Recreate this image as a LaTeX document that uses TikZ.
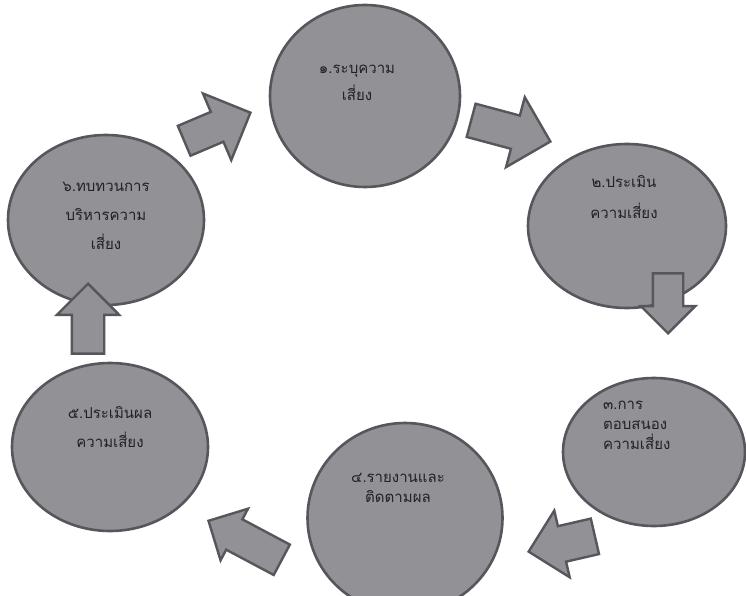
\documentclass[tikz,border=0pt]{standalone}
\usepackage{fontspec}
\newfontfamily\thaifont[Script=Thai]{Loma}
\usetikzlibrary{shapes.geometric,shapes.arrows}
\definecolor{stepfill}{RGB}{145,145,150}
\definecolor{stepline}{RGB}{86,86,92}
\definecolor{steptext}{RGB}{34,34,36}
\tikzset{
  stepcircle/.style={ellipse, draw=stepline, fill=stepfill, line width=2.6pt, inner sep=0pt},
  steplabel/.style={text=steptext, font=\thaifont\fontsize{15}{#1}\selectfont, inner sep=0pt},
  steplabel/.default=28,
  blockarrow/.style 2 args={single arrow, draw=stepline, fill=stepfill, line width=2.4pt,
    inner xsep=0pt, inner ysep=#1, single arrow head extend=#2, anchor=tip},
}
\begin{document}
\begin{tikzpicture}[x=1pt,y=1pt]
\useasboundingbox (0,0) rectangle (746,595);
\fill[white] (0,0) rectangle (746,595);
% the six steps
\node[stepcircle, minimum width=190, minimum height=182] (e1) at (365,499) {};
\node[stepcircle, minimum width=198, minimum height=164] (e2) at (627,369) {};
\node[stepcircle, minimum width=182, minimum height=148] (e3) at (654,143) {};
\node[stepcircle, minimum width=195, minimum height=190] (e4) at (405,77) {};
\node[stepcircle, minimum width=196, minimum height=168] (e5) at (110,148) {};
\node[stepcircle, minimum width=196, minimum height=170] (e6) at (106,375) {};
% texts
\node[steplabel=27, align=center] (t1) at (357,512) {๑.ระบุความ\\เสี่ยง};
\node[steplabel=31, align=center] (t2) at (624,398) {๒.ประเมิน\\ความเสี่ยง};
\node[steplabel=20, align=left, anchor=west] (t3) at (603,170) {๓.การ\\ตอบสนอง\\ความเสี่ยง};
\node[steplabel=20, align=center] (t4) at (398,107) {๔.รายงานและ\\ติดตามผล};
\node[steplabel=29, align=center] (t5) at (110,168) {๕.ประเมินผล\\ความเสี่ยง};
\node[steplabel=29, align=center] (t6) at (106,379) {๖.ทบทวนการ\\บริหารความ\\เสี่ยง};
% block arrows
\node[blockarrow={16pt}{19pt}, rotate=-15, minimum height=82] (a12) at (552,453) {};
\node[blockarrow={14pt}{12pt}, rotate=-90, minimum height=60] (a23) at (668,260) {};
\node[blockarrow={17pt}{16pt}, rotate=193, minimum height=68] (a34) at (527,43) {};
\node[blockarrow={16pt}{12pt}, rotate=152, minimum height=83] (a45) at (207,75) {};
\node[blockarrow={15pt}{15pt}, rotate=90, minimum height=70] (a56) at (88,313) {};
\node[blockarrow={15pt}{20pt}, rotate=23, minimum height=72] (a61) at (252,483) {};
\end{tikzpicture}
\end{document}
